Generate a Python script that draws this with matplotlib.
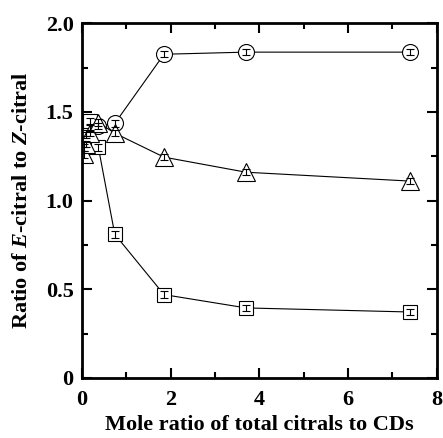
import matplotlib
matplotlib.use('Agg')
from matplotlib import pyplot as plt
from matplotlib.ticker import MultipleLocator, FuncFormatter

# data
x = [0.046, 0.093, 0.185, 0.37, 0.74, 1.85, 3.7, 7.4]
circle_y = [1.32, 1.37, 1.41, 1.42, 1.435, 1.825, 1.837, 1.837]
square_y = [1.30, 1.38, 1.45, 1.30, 0.81, 0.47, 0.395, 0.372]
triangle_y = [1.26, 1.32, 1.38, 1.44, 1.38, 1.245, 1.16, 1.11]
err = [0.018, 0.018, 0.018, 0.018, 0.018, 0.018, 0.018, 0.018]

plt.rcParams['font.family'] = 'Liberation Serif'
plt.rcParams['font.weight'] = 'bold'
plt.rcParams['mathtext.fontset'] = 'custom'
plt.rcParams['mathtext.it'] = 'Liberation Serif:bold:italic'
plt.rcParams['mathtext.rm'] = 'Liberation Serif:bold'

fig = plt.figure(figsize=(4.43, 4.38), dpi=100)
ax = fig.add_axes([0.185, 0.137, 0.801, 0.81])

styles = [(circle_y, 'o', 11.5), (square_y, 's', 9.5), (triangle_y, '^', 12.5)]
for ys, m, ms in styles:
    ax.plot(x, ys, '-', marker=m, color='black', lw=0.8, ms=ms,
            mfc='white', mec='black', mew=0.8, zorder=2)
    ax.errorbar(x, ys, yerr=err, fmt='none', ecolor='black',
                elinewidth=0.8, capsize=3, capthick=0.8, zorder=3)

ax.set_xlim(0, 8)
ax.set_ylim(0, 2.0)
ax.xaxis.set_major_locator(MultipleLocator(2))
ax.xaxis.set_minor_locator(MultipleLocator(1))
ax.yaxis.set_major_locator(MultipleLocator(0.5))
ax.yaxis.set_minor_locator(MultipleLocator(0.25))
ax.yaxis.set_major_formatter(FuncFormatter(lambda v, p: '0' if v == 0 else '%.1f' % v))
ax.tick_params(which='both', direction='in', top=True, right=True, labelsize=16, width=1.5)
ax.tick_params(which='major', length=7, pad=6)
ax.tick_params(axis='x', which='major', pad=9)
ax.tick_params(which='minor', length=4)
for s in ax.spines.values():
    s.set_linewidth(2)

ax.set_xlabel('Mole ratio of total citrals to CDs', fontsize=16, fontweight='bold', labelpad=3)
ax.set_ylabel('Ratio of $\\mathit{E}$-citral to $\\mathit{Z}$-citral', fontsize=16, fontweight='bold', labelpad=10)

plt.savefig('out.png', dpi=100)
